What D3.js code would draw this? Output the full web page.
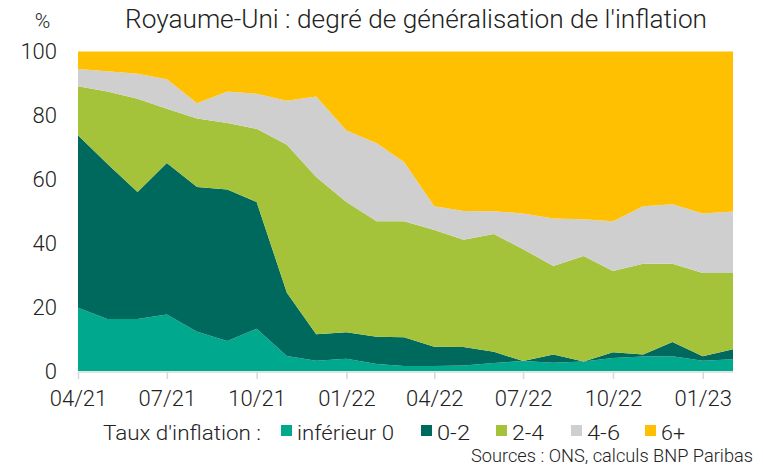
<!DOCTYPE html>
<html lang="fr">
	<head>
		<meta charset="utf-8">
		<title>Royaume-Uni : degré de généralisation de l'inflation</title>
		<script type="text/javascript" src="https://cdn.jsdelivr.net/npm/d3@7"></script>
		<style type="text/css">
			body { margin: 0; background: #fff; }
			text { font-family: Roboto, "Liberation Sans", sans-serif; font-weight: 300; fill: #222; }
		</style>
	</head>
	<body>
		<script type="text/javascript">
			//Months, 04/21 to 02/23
			var months = ["2021-04","2021-05","2021-06","2021-07","2021-08","2021-09","2021-10","2021-11","2021-12",
			              "2022-01","2022-02","2022-03","2022-04","2022-05","2022-06","2022-07","2022-08","2022-09",
			              "2022-10","2022-11","2022-12","2023-01","2023-02"];

			//Share of the CPI basket by inflation bracket (%)
			var inf0  = [19.8,16.3,16.3,17.7,12.3,9.4,13.2,4.7,3.2,3.8,2.2,1.6,1.6,1.7,2.5,3.1,2.6,3.0,4.1,4.5,4.6,3.2,3.7];
			var b0_2  = [54.0,48.6,39.7,47.4,45.3,47.4,39.7,19.8,8.3,8.3,8.5,9.0,6.0,5.8,3.5,0.0,2.6,0.0,1.8,0.7,4.5,1.4,3.1];
			var b2_4  = [15.3,22.6,29.2,17.0,21.4,20.8,22.9,46.3,49.2,40.8,36.2,36.3,36.5,33.6,36.9,35.0,27.7,33.0,25.4,28.4,24.5,26.1,23.9];
			var b4_6  = [5.4,6.3,7.8,9.2,4.8,9.9,11.0,13.8,25.2,22.4,24.4,18.5,7.5,9.0,7.1,11.2,14.8,11.5,15.6,18.0,18.6,18.6,19.2];
			var b6p   = [5.5,6.2,7.0,8.7,16.2,12.5,13.2,15.4,14.1,24.7,28.7,34.6,48.4,49.9,50.0,50.7,52.3,52.5,53.1,48.4,47.8,50.7,50.1];

			var keys   = ["inf0","b0_2","b2_4","b4_6","b6p"];
			var labels = ["inférieur 0","0-2","2-4","4-6","6+"];
			var colors = ["#00a88d","#00695e","#a5c33a","#d0cfd0","#fec000"];
			var yTicks = [0,20,40,60,80,100];

			var w = 763;
			var h = 468;

			var svg = d3.select("body")
						.append("svg")
						.attr("width", w)
						.attr("height", h);

			var parse = d3.utcParse("%Y-%m");
			var data = months.map(function(m, i) {
				return { date: parse(m), inf0: inf0[i], b0_2: b0_2[i], b2_4: b2_4[i], b4_6: b4_6[i], b6p: b6p[i] };
			});

			var x = d3.scaleUtc()
					  .domain(d3.extent(data, function(d) { return d.date; }))
					  .range([78, 733]);

			var y = d3.scaleLinear()
					  .domain([0, 100])
					  .range([371, 51.5]);

			var series = d3.stack().keys(keys)(data);

			var area = d3.area()
						 .x(function(d) { return x(d.data.date); })
						 .y0(function(d) { return y(d[0]); })
						 .y1(function(d) { return y(d[1]); });

			svg.selectAll("path.layer")
			   .data(series)
			   .enter()
			   .append("path")
			   .attr("class", "layer")
			   .attr("d", area)
			   .style("fill", function(d, i) { return colors[i]; });

			//X axis
			var xAxis = d3.axisBottom(x)
						  .ticks(d3.utcMonth.every(3))
						  .tickFormat(d3.utcFormat("%m/%y"))
						  .tickSize(7)
						  .tickPadding(11);

			var gx = svg.append("g")
						.attr("transform", "translate(0,372)")
						.call(xAxis);
			gx.selectAll("path, line").style("stroke", "#d9d9d9").style("stroke-width", 1.6);
			gx.select(".domain").attr("d", "M78,0H733");
			gx.selectAll("text").style("font-size", "22px").style("font-family", "Roboto").style("font-weight", 300).style("fill", "#222");

			//Y labels
			svg.selectAll("text.ylab")
			   .data(yTicks)
			   .enter()
			   .append("text")
			   .attr("class", "ylab")
			   .attr("x", 57)
			   .attr("y", function(d) { return y(d); })
			   .attr("dy", "0.35em")
			   .attr("text-anchor", "end")
			   .style("font-size", "22px")
			   .text(function(d) { return d; });

			svg.append("text")
			   .attr("x", 42.5)
			   .attr("y", 28)
			   .attr("text-anchor", "middle")
			   .style("font-size", "21px")
			   .text("%");

			//Title
			svg.append("text")
			   .attr("x", 125)
			   .attr("y", 28)
			   .attr("textLength", 582)
			   .attr("lengthAdjust", "spacingAndGlyphs")
			   .style("font-size", "25px")
			   .text("Royaume-Uni : degré de généralisation de l'inflation");

			//Legend
			svg.append("text")
			   .attr("x", 103)
			   .attr("y", 440)
			   .attr("textLength", 158)
			   .attr("lengthAdjust", "spacingAndGlyphs")
			   .style("font-size", "21px")
			   .text("Taux d'inflation :");

			var legX = [281, 421, 496, 571, 645];
			var legW = [97, 33, 32, 33, 24];
			var leg = svg.selectAll("g.leg")
						 .data(labels)
						 .enter()
						 .append("g")
						 .attr("class", "leg")
						 .attr("transform", function(d, i) { return "translate(" + legX[i] + ",0)"; });

			leg.append("rect")
			   .attr("x", 0)
			   .attr("y", 425)
			   .attr("width", 11)
			   .attr("height", 11)
			   .style("fill", function(d, i) { return colors[i]; });

			leg.append("text")
			   .attr("x", 16)
			   .attr("y", 440)
			   .attr("textLength", function(d, i) { return legW[i]; })
			   .attr("lengthAdjust", "spacingAndGlyphs")
			   .style("font-size", "21px")
			   .text(function(d) { return d; });

			//Sources
			svg.append("text")
			   .attr("x", 753)
			   .attr("y", 462)
			   .attr("text-anchor", "end")
			   .attr("textLength", 282)
			   .attr("lengthAdjust", "spacingAndGlyphs")
			   .style("font-size", "18px")
			   .text("Sources : ONS, calculs BNP Paribas");

		</script>
	</body>
</html>
